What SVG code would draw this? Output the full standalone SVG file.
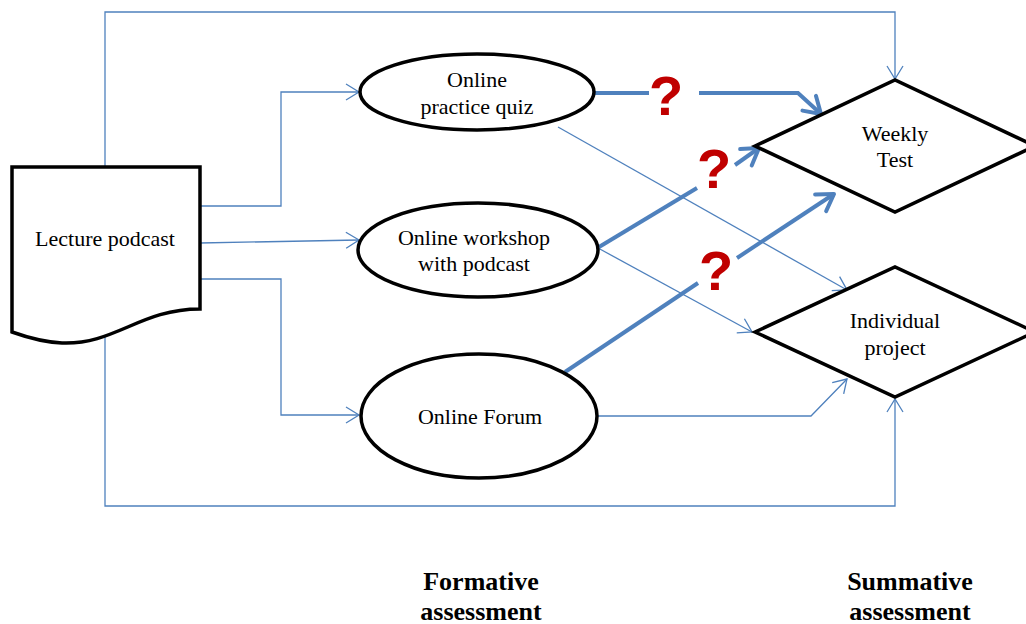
<svg xmlns="http://www.w3.org/2000/svg" width="1026" height="624" viewBox="0 0 1026 624">
<style>
.shape{fill:#fff;stroke:#000;stroke-width:3.5;stroke-linejoin:miter}
.thin{fill:none;stroke:#4F81BD;stroke-width:1.3}
.thick{fill:none;stroke:#4F81BD;stroke-width:4}
.lbl{font-family:"Liberation Serif","Times New Roman",serif;font-size:22px;fill:#000;text-anchor:middle}
.big{font-family:"Liberation Serif","Times New Roman",serif;font-size:26px;font-weight:bold;fill:#000;text-anchor:middle}
.q{font-family:"Liberation Sans",Arial,sans-serif;font-size:56px;font-weight:bold;fill:#C00000;text-anchor:middle}
</style>
<defs>
<marker id="ah" markerUnits="userSpaceOnUse" markerWidth="30" markerHeight="30" viewBox="-20 -15 30 30" refX="0" refY="0" orient="auto" overflow="visible">
<path d="M-13,-8 L0,0 L-13,8" fill="none" stroke="#4F81BD" stroke-width="1.3"/>
</marker>
<marker id="ahT" markerUnits="userSpaceOnUse" markerWidth="40" markerHeight="40" viewBox="-25 -20 40 40" refX="0" refY="0" orient="auto" overflow="visible">
<path d="M-16,-10 L0,0 L-16,10" fill="none" stroke="#4F81BD" stroke-width="4" stroke-linecap="round" stroke-linejoin="round"/>
</marker>
</defs>
<rect width="1026" height="624" fill="#fff"/>
<g id="connectors">
<polyline class="thin" points="105,167 105,12 895,12 895,79" marker-end="url(#ah)"/>
<polyline class="thin" points="105,336 105,506 895,506 895,399" marker-end="url(#ah)"/>
<polyline class="thin" points="200,206 281,206 281,92 359,92" marker-end="url(#ah)"/>
<polyline class="thin" points="200,243 359,240" marker-end="url(#ah)"/>
<polyline class="thin" points="200,279 281,279 281,415 359,415" marker-end="url(#ah)"/>
<polyline class="thin" points="558,127 847,290" marker-end="url(#ah)"/>
<polyline class="thin" points="598,248 752,332" marker-end="url(#ah)"/>
<polyline class="thin" points="598,416 811,416 847,379" marker-end="url(#ah)"/>
<polyline class="thick" points="594,93 649,93"/>
<polyline class="thick" points="699,93 798,93 821,114" marker-end="url(#ahT)"/>
<polyline class="thick" points="599,247 697,188"/>
<polyline class="thick" points="735,165 759,148" marker-end="url(#ahT)"/>
<polyline class="thick" points="565,372 698,283"/>
<polyline class="thick" points="737,258 834,194" marker-end="url(#ahT)"/>
</g>
<g id="lecture-podcast">
<path class="shape" d="M12,167 L200,167 L200,309 C140,309 115,345 62,343 C42,342 26,337 12,332 Z"/>
<text class="lbl" x="105" y="246">Lecture podcast</text>
</g>
<g id="practice-quiz">
<ellipse class="shape" cx="477" cy="92" rx="117" ry="38"/>
<text class="lbl" x="477" y="87">Online</text>
<text class="lbl" x="477" y="114">practice quiz</text>
</g>
<g id="workshop">
<ellipse class="shape" cx="478" cy="250" rx="120" ry="47"/>
<text class="lbl" x="474" y="245">Online workshop</text>
<text class="lbl" x="474" y="271">with podcast</text>
</g>
<g id="forum">
<ellipse class="shape" cx="479" cy="416" rx="118" ry="62"/>
<text class="lbl" x="480" y="424">Online Forum</text>
</g>
<g id="weekly-test">
<polygon class="shape" points="755,146 895,80 1035,146 895,212"/>
<text class="lbl" x="895" y="141">Weekly</text>
<text class="lbl" x="895" y="167">Test</text>
</g>
<g id="individual-project">
<polygon class="shape" points="755,332 895,267 1035,332 895,397"/>
<text class="lbl" x="895" y="328">Individual</text>
<text class="lbl" x="895" y="355">project</text>
</g>
<g id="questions">
<text class="q" x="666" y="115">?</text>
<text class="q" x="714" y="188">?</text>
<text class="q" x="716" y="290">?</text>
</g>
<g id="captions">
<text class="big" x="481" y="590">Formative</text>
<text class="big" x="481" y="620">assessment</text>
<text class="big" x="910" y="590">Summative</text>
<text class="big" x="910" y="620">assessment</text>
</g>
</svg>
